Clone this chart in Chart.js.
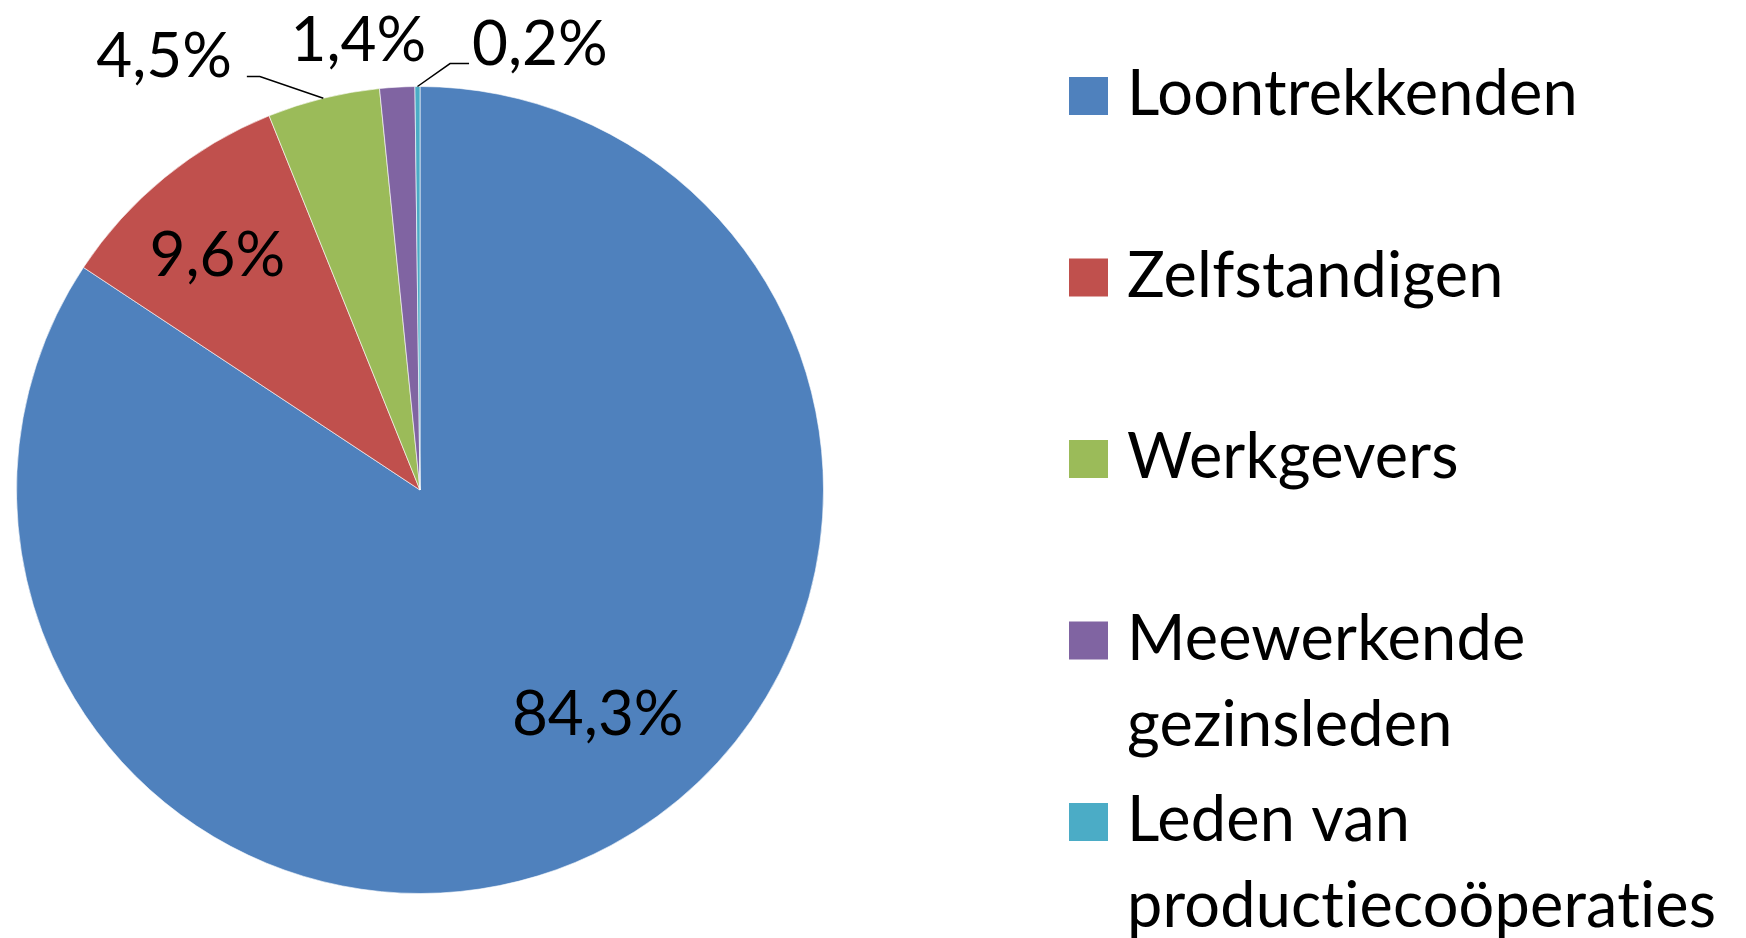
<!DOCTYPE html>
<html>
<head>
<meta charset="utf-8">
<script src="https://cdn.jsdelivr.net/npm/chart.js@4.4.1/dist/chart.umd.min.js"></script>
<style>
  html, body { margin: 0; padding: 0; background: #fff; overflow: hidden; }
</style>
</head>
<body>
<canvas id="pieChart" width="1746" height="938"></canvas>
<script>
// data
const categories = ["Loontrekkenden", "Zelfstandigen", "Werkgevers", ["Meewerkende", "gezinsleden"], ["Leden van", "productiecoöperaties"]];
const shares = [84.3, 9.6, 4.5, 1.4, 0.2];
const sliceColors = ["#4F81BD", "#C0504D", "#9BBB59", "#8064A2", "#4BACC6"];

const FONT = "Lato, 'Open Sans', sans-serif";

// where each percentage goes (angle in degrees, distance in radii)
const labelPlacement = [
  { angle: 51.4, dist: 0.706 },
  { angle: 229.3, dist: 0.77 },
  { angle: 239.5, dist: 1.25, leader: true },
  { angle: 262.2, dist: 1.127 },
  { angle: 285, dist: 1.148, leader: true }
];

// Percent labels with leader lines
const sliceLabels = {
  id: "sliceLabels",
  afterDatasetsDraw(chart) {
    const ctx = chart.ctx;
    const arcs = chart.getDatasetMeta(0).data;
    ctx.save();
    ctx.font = "62px " + FONT;
    ctx.fillStyle = "#000";
    ctx.textAlign = "center";
    ctx.textBaseline = "alphabetic";
    arcs.forEach((arc, i) => {
      const p = labelPlacement[i];
      const a = p.angle * Math.PI / 180;
      const r = arc.outerRadius * p.dist;
      const x = arc.x + Math.cos(a) * r;
      const y = arc.y + Math.sin(a) * r;
      const text = shares[i].toFixed(1).replace(".", ",") + "%";
      const base = y + 22;
      ctx.fillText(text, x, base);

      if (p.leader) {
        const mid = (arc.startAngle + arc.endAngle) / 2;
        const ex = arc.x + Math.cos(mid) * arc.outerRadius;
        const ey = arc.y + Math.sin(mid) * arc.outerRadius;
        const w = ctx.measureText(text).width;
        let sx, kx;
        if (x < ex) { sx = x + w / 2 + 15; kx = sx + 13; }
        else { sx = x - w / 2 - 3; kx = sx - 19; }
        const sy = base - 1;
        ctx.beginPath();
        ctx.moveTo(sx, sy);
        ctx.lineTo(kx, sy);
        ctx.lineTo(ex, ey);
        ctx.strokeStyle = "#000";
        ctx.lineWidth = 1.5;
        ctx.stroke();
      }
    });
    ctx.restore();
  }
};

// Legend on the right side
const sideLegend = {
  id: "sideLegend",
  afterDraw(chart, args, opts) {
    const ctx = chart.ctx;
    ctx.save();
    ctx.font = opts.font;
    ctx.letterSpacing = "0.2px"; // keeps "ti" from turning into a ligature
    ctx.textAlign = "left";
    ctx.textBaseline = "alphabetic";
    chart.data.labels.forEach((lab, i) => {
      const lines = Array.isArray(lab) ? lab : [lab];
      const top = opts.top + i * opts.step;
      ctx.fillStyle = sliceColors[i];
      ctx.fillRect(opts.x, top, opts.box, opts.box - 1);
      ctx.fillStyle = "#000";
      lines.forEach((ln, j) => {
        ctx.fillText(ln, opts.textX, top + opts.box - 1 + j * opts.lineHeight);
      });
    });
    ctx.restore();
  }
};

const ctx = document.getElementById("pieChart").getContext("2d");

new Chart(ctx, {
  type: "pie",
  data: {
    labels: categories,
    datasets: [
      {
        data: shares,
        backgroundColor: sliceColors,
        borderColor: "rgba(255,255,255,0.6)",
        borderWidth: 1
      }
    ]
  },
  options: {
    responsive: false,
    animation: false,
    layout: {
      padding: { left: 16, top: 86, right: 922, bottom: 44 }
    },
    plugins: {
      legend: { display: false },
      tooltip: { enabled: false },
      sideLegend: {
        font: "63px " + FONT,
        x: 1069,
        top: 77,
        step: 181.5,
        box: 39,
        textX: 1127,
        lineHeight: 86
      }
    }
  },
  plugins: [sliceLabels, sideLegend]
});
</script>
</body>
</html>
